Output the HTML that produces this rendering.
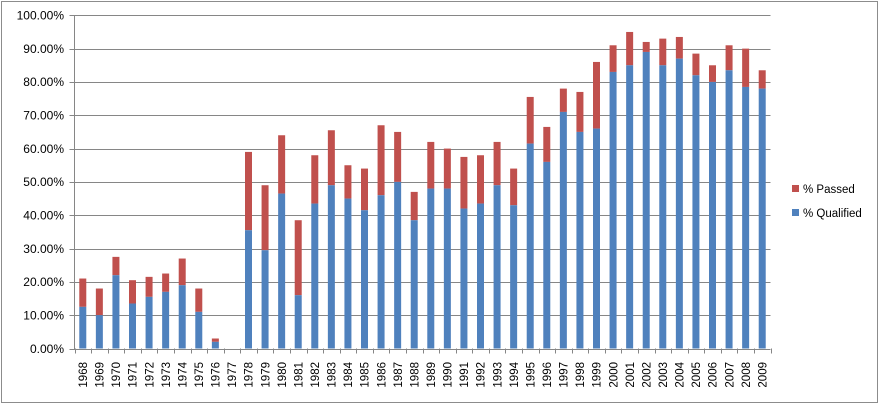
<!DOCTYPE html>
<html><head><meta charset="utf-8"><style>
html,body{margin:0;padding:0;background:#fff;}
svg{display:block;font-family:"Liberation Sans",sans-serif;}
</style></head><body>
<svg id="c" width="880" height="405" viewBox="0 0 880 405" xmlns="http://www.w3.org/2000/svg">
<rect x="1.5" y="1.5" width="876" height="401" fill="#fff" stroke="#8c8c8c" stroke-width="1"/>
<g id="grid" stroke="#868686" stroke-width="1"></g>
<g id="bars"></g>
<g font-size="12" fill="#000" text-anchor="end">
<text x="64" y="19.5">100.00%</text>
<text x="64" y="52.8">90.00%</text>
<text x="64" y="86.2">80.00%</text>
<text x="64" y="119.5">70.00%</text>
<text x="64" y="152.8">60.00%</text>
<text x="64" y="186.2">50.00%</text>
<text x="64" y="219.5">40.00%</text>
<text x="64" y="252.8">30.00%</text>
<text x="64" y="286.2">20.00%</text>
<text x="64" y="319.5">10.00%</text>
<text x="64" y="352.8">0.00%</text>
</g>
<g id="xl" font-size="11.5" fill="#000" text-anchor="end">
<text transform="translate(87,362) rotate(-90)">1968</text>
<text transform="translate(103.6,362) rotate(-90)">1969</text>
<text transform="translate(120.1,362) rotate(-90)">1970</text>
<text transform="translate(136.7,362) rotate(-90)">1971</text>
<text transform="translate(153.3,362) rotate(-90)">1972</text>
<text transform="translate(169.9,362) rotate(-90)">1973</text>
<text transform="translate(186.4,362) rotate(-90)">1974</text>
<text transform="translate(203,362) rotate(-90)">1975</text>
<text transform="translate(219.6,362) rotate(-90)">1976</text>
<text transform="translate(236.1,362) rotate(-90)">1977</text>
<text transform="translate(252.7,362) rotate(-90)">1978</text>
<text transform="translate(269.3,362) rotate(-90)">1979</text>
<text transform="translate(285.9,362) rotate(-90)">1980</text>
<text transform="translate(302.4,362) rotate(-90)">1981</text>
<text transform="translate(319,362) rotate(-90)">1982</text>
<text transform="translate(335.6,362) rotate(-90)">1983</text>
<text transform="translate(352.1,362) rotate(-90)">1984</text>
<text transform="translate(368.7,362) rotate(-90)">1985</text>
<text transform="translate(385.3,362) rotate(-90)">1986</text>
<text transform="translate(401.9,362) rotate(-90)">1987</text>
<text transform="translate(418.4,362) rotate(-90)">1988</text>
<text transform="translate(435,362) rotate(-90)">1989</text>
<text transform="translate(451.6,362) rotate(-90)">1990</text>
<text transform="translate(468.1,362) rotate(-90)">1991</text>
<text transform="translate(484.7,362) rotate(-90)">1992</text>
<text transform="translate(501.3,362) rotate(-90)">1993</text>
<text transform="translate(517.9,362) rotate(-90)">1994</text>
<text transform="translate(534.4,362) rotate(-90)">1995</text>
<text transform="translate(551,362) rotate(-90)">1996</text>
<text transform="translate(567.6,362) rotate(-90)">1997</text>
<text transform="translate(584.1,362) rotate(-90)">1998</text>
<text transform="translate(600.7,362) rotate(-90)">1999</text>
<text transform="translate(617.3,362) rotate(-90)">2000</text>
<text transform="translate(633.9,362) rotate(-90)">2001</text>
<text transform="translate(650.4,362) rotate(-90)">2002</text>
<text transform="translate(667,362) rotate(-90)">2003</text>
<text transform="translate(683.6,362) rotate(-90)">2004</text>
<text transform="translate(700.1,362) rotate(-90)">2005</text>
<text transform="translate(716.7,362) rotate(-90)">2006</text>
<text transform="translate(733.3,362) rotate(-90)">2007</text>
<text transform="translate(749.9,362) rotate(-90)">2008</text>
<text transform="translate(766.4,362) rotate(-90)">2009</text>
</g>
<rect x="792" y="185" width="7" height="7" fill="#c0504d"/>
<text x="803" y="193" font-size="11.5">% Passed</text>
<rect x="792" y="209" width="7" height="7" fill="#4f81bd"/>
<text x="803" y="217" font-size="11.5">% Qualified</text>
</svg>
<script>
var L=74.5,R=770.5,T=15.3,B=348.5,n=42,cw=(R-L)/n;
var q=[12.5,10,22,13.5,15.5,17,19,11,2,0,35.5,29.5,46.5,16,43.5,49,45,41.5,46,50,38.5,48,48,42,43.5,49,43,61.5,56,71,65,66,83,85,89,85,87,82,80,83.5,78.5,78];
var t=[21,18,27.5,20.5,21.5,22.5,27,18,3,0,59,49,64,38.5,58,65.5,55,54,67,65,47,62,60,57.5,58,62,54,75.5,66.5,78,77,86,91,95,92,93,93.5,88.5,85,91,90,83.5];
var ns="http://www.w3.org/2000/svg",g=document.getElementById('grid'),b=document.getElementById('bars');
function el(p,tag,a){var e=document.createElementNS(ns,tag);for(var k in a)e.setAttribute(k,a[k]);p.appendChild(e);return e;}
for(var i=0;i<=10;i++){var y=Math.round(T+(B-T)*i/10)+0.5;el(g,'line',{x1:L-5,x2:R,y1:y,y2:y});}
el(g,'line',{x1:L,x2:L,y1:T,y2:B+0.5});
for(var i=0;i<=n;i++){var x=Math.round(L+cw*i)+0.5;el(g,'line',{x1:x,x2:x,y1:B,y2:B+5});}
var s=(B-T)/100;
for(var i=0;i<n;i++){var cx=L+cw*(i+0.5),x=cx-3.5;
if(t[i]>q[i])el(b,'rect',{x:x,y:B-t[i]*s,width:7,height:(t[i]-q[i])*s,fill:'#c0504d'});
if(q[i]>0)el(b,'rect',{x:x,y:B-q[i]*s,width:7,height:q[i]*s,fill:'#4f81bd'});}
</script>
</body></html>
